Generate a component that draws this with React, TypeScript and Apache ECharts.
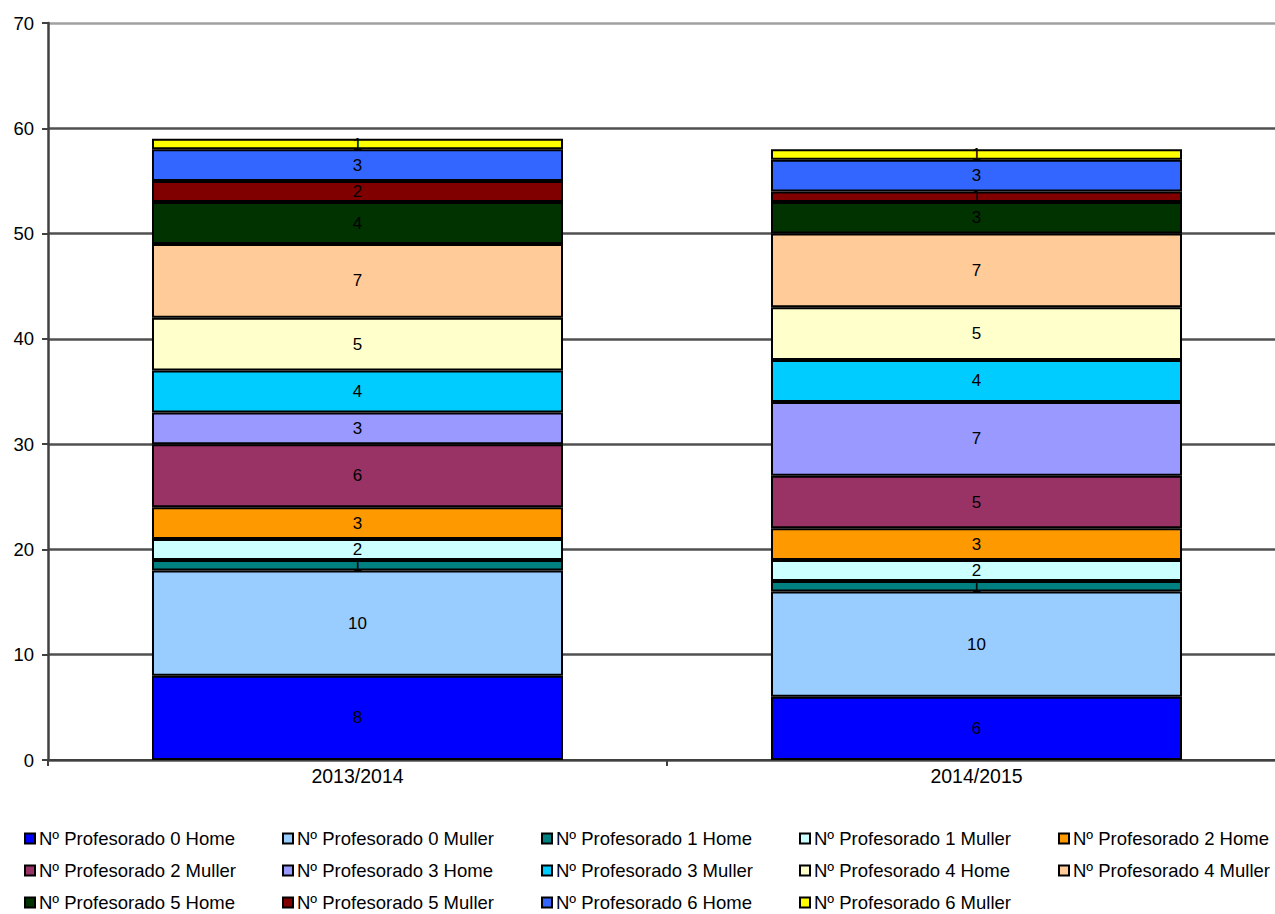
import React, { useEffect, useRef } from "react";
import * as echarts from "echarts";

const categories = ["2013/2014", "2014/2015"];
const seriesNames = [
  "Nº Profesorado 0 Home",
  "Nº Profesorado 0 Muller",
  "Nº Profesorado 1 Home",
  "Nº Profesorado 1 Muller",
  "Nº Profesorado 2 Home",
  "Nº Profesorado 2 Muller",
  "Nº Profesorado 3 Home",
  "Nº Profesorado 3 Muller",
  "Nº Profesorado 4 Home",
  "Nº Profesorado 4 Muller",
  "Nº Profesorado 5 Home",
  "Nº Profesorado 5 Muller",
  "Nº Profesorado 6 Home",
  "Nº Profesorado 6 Muller",
];
const values2013 = [8, 10, 1, 2, 3, 6, 3, 4, 5, 7, 4, 2, 3, 1];
const values2014 = [6, 10, 1, 2, 3, 5, 7, 4, 5, 7, 3, 1, 3, 1];
const colors = [
  "#0000FF", "#99CCFF", "#008080", "#CCFFFF", "#FF9900", "#993366", "#9999FF",
  "#00CCFF", "#FFFFCC", "#FFCC99", "#003300", "#800000", "#3366FF", "#FFFF00",
];

const FONT = "'Liberation Sans', Arial, sans-serif";
const legendCols = [24, 282, 541, 799, 1058];
const legendRows = [838, 870, 902];

export default function App() {
  const ref = useRef<HTMLDivElement>(null);
  useEffect(() => {
    const chart = echarts.init(ref.current!, null, { renderer: "svg" });
    const series = seriesNames.map((name, i) => ({
      name,
      type: "bar",
      stack: "total",
      barWidth: "66.4%",
      data: [values2013[i], values2014[i]],
      itemStyle: { color: colors[i], borderColor: "#000", borderWidth: 2 },
      label: {
        show: true,
        position: "inside",
        color: "#000",
        fontFamily: FONT,
        fontSize: 17,
      },
    }));
    const legends = seriesNames.map((name, i) => ({
      data: [name],
      orient: "horizontal",
      left: legendCols[i % 5],
      top: legendRows[Math.floor(i / 5)] - 9,
      padding: 0,
      itemWidth: 10,
      itemHeight: 10,
      itemGap: 4,
      icon: "rect",
      itemStyle: { borderColor: "#000", borderWidth: 2 },
      textStyle: { fontFamily: FONT, fontSize: 18.5, color: "#000", padding: [0, 0, 0, -1] },
      selectedMode: false,
    }));
    chart.setOption({
      animation: false,
      color: colors,
      grid: { left: 48, top: 23, right: 4, bottom: 154, containLabel: false },
      legend: legends,
      xAxis: {
        type: "category",
        data: categories,
        axisLine: { lineStyle: { color: "#404040", width: 2 } },
        axisTick: { show: true, length: 6, lineStyle: { color: "#404040", width: 2 } },
        axisLabel: { color: "#000", fontFamily: FONT, fontSize: 19.5, margin: 6 },
      },
      yAxis: {
        type: "value",
        min: 0,
        max: 70,
        interval: 10,
        axisLine: { show: true, lineStyle: { color: "#404040", width: 2.5 } },
        axisTick: { show: true, length: 6, lineStyle: { color: "#404040", width: 2 } },
        axisLabel: { color: "#000", fontFamily: FONT, fontSize: 18.5, margin: 14 },
        splitLine: {
          lineStyle: {
            color: ["#505050", "#505050", "#505050", "#505050", "#505050", "#505050", "#505050", "#a0a0a0"],
            width: 2.5,
          },
        },
      },
      series,
    });
    return () => chart.dispose();
  }, []);
  return (
    <div
      ref={ref}
      style={{ position: "fixed", left: 0, top: 0, width: 1290, height: 914, background: "#fff" }}
    />
  );
}
